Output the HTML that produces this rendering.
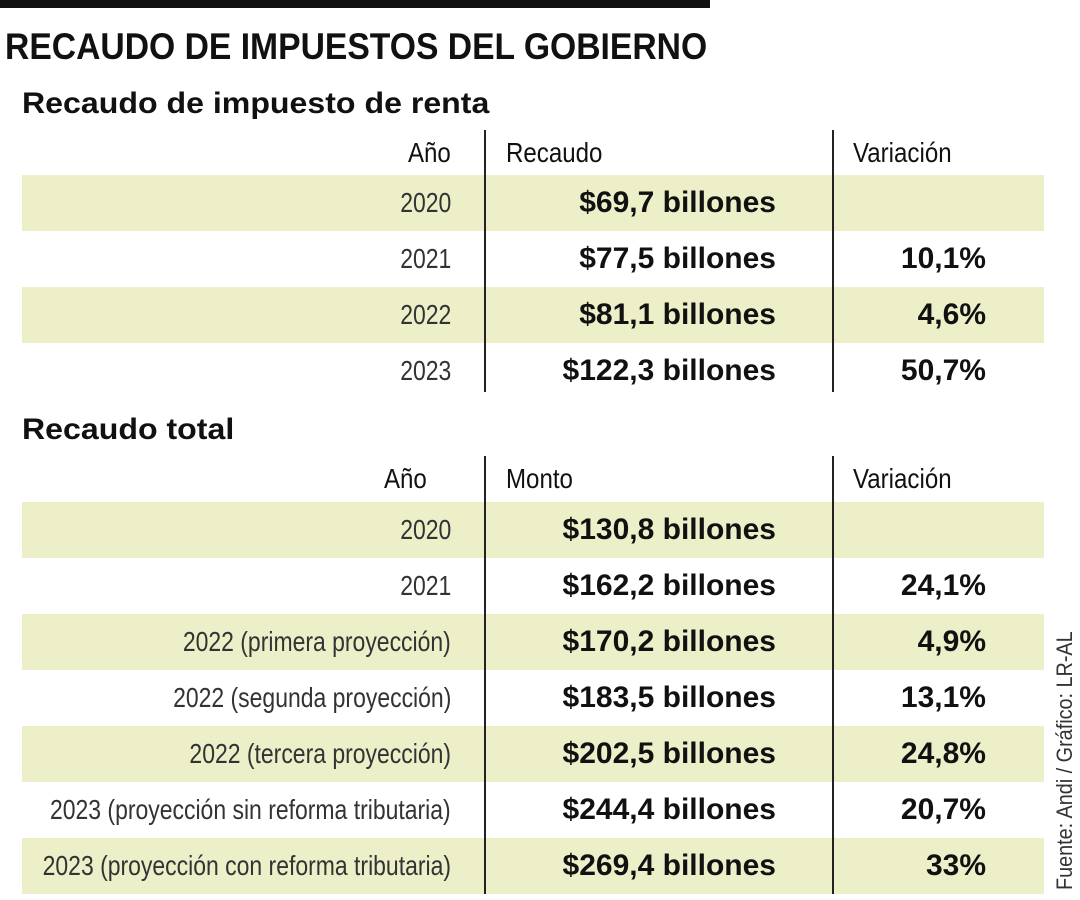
<!DOCTYPE html>
<html><head><meta charset="utf-8">
<style>
body{margin:0;width:1080px;height:900px;background:#fff;position:relative;overflow:hidden;font-family:"Liberation Sans",sans-serif;color:#111}
.a{position:absolute;white-space:nowrap}
.band{position:absolute;left:22px;width:1022px;height:56px;background:#ecefc8}
.vl{position:absolute;width:1.5px;background:#222}
.yr{position:absolute;right:629px;font-size:28px;transform:scaleX(.82);transform-origin:right center;color:#333;line-height:56px;white-space:nowrap}
.val{position:absolute;right:304px;font-size:30px;font-weight:bold;line-height:56px;white-space:nowrap}
.var{position:absolute;right:94px;font-size:30px;font-weight:bold;line-height:56px;white-space:nowrap}
.hd{position:absolute;font-size:28px;transform:scaleX(.86);white-space:nowrap;line-height:44px}
</style></head><body>
<div class="a" style="left:0;top:0;width:710px;height:8px;background:#111"></div>
<div class="a" style="left:5px;top:26px;font-size:37px;font-weight:bold;transform:scaleX(.91);transform-origin:left center;line-height:42px">RECAUDO DE IMPUESTOS DEL GOBIERNO</div>
<div class="a" style="left:22px;top:86px;font-size:30px;font-weight:bold;line-height:36px;transform:scaleX(1.07);transform-origin:left center">Recaudo de impuesto de renta</div>

<div class="band" style="top:175px"></div>
<div class="band" style="top:287px"></div>
<div class="vl" style="left:484px;top:130px;height:262px"></div>
<div class="vl" style="left:832px;top:130px;height:262px"></div>
<div class="hd" style="right:629px;top:131px;transform-origin:right center">Año</div>
<div class="hd" style="left:506px;top:131px;transform-origin:left center">Recaudo</div>
<div class="hd" style="left:853px;top:131px;transform-origin:left center">Variación</div>

<div>
<div class="yr" style="top:175px">2020</div><div class="val" style="top:175px">$69,7 billones</div>
<div class="yr" style="top:231px">2021</div><div class="val" style="top:231px">$77,5 billones</div><div class="var" style="top:231px">10,1%</div>
<div class="yr" style="top:287px">2022</div><div class="val" style="top:287px">$81,1 billones</div><div class="var" style="top:287px">4,6%</div>
<div class="yr" style="top:343px">2023</div><div class="val" style="top:343px">$122,3 billones</div><div class="var" style="top:343px">50,7%</div>
</div>

<div class="a" style="left:22px;top:412px;font-size:30px;font-weight:bold;line-height:36px;transform:scaleX(1.07);transform-origin:left center">Recaudo total</div>
<div class="band" style="top:502px"></div>
<div class="band" style="top:614px"></div>
<div class="band" style="top:726px"></div>
<div class="band" style="top:838px"></div>
<div class="vl" style="left:484px;top:456px;height:438px"></div>
<div class="vl" style="left:832px;top:456px;height:438px"></div>
<div class="hd" style="right:653px;top:457px;transform-origin:right center">Año</div>
<div class="hd" style="left:506px;top:457px;transform-origin:left center">Monto</div>
<div class="hd" style="left:853px;top:457px;transform-origin:left center">Variación</div>

<div>
<div class="yr" style="top:502px">2020</div><div class="val" style="top:502px">$130,8 billones</div>
<div class="yr" style="top:558px">2021</div><div class="val" style="top:558px">$162,2 billones</div><div class="var" style="top:558px">24,1%</div>
<div class="yr" style="top:614px">2022 (primera proyección)</div><div class="val" style="top:614px">$170,2 billones</div><div class="var" style="top:614px">4,9%</div>
<div class="yr" style="top:670px">2022 (segunda proyección)</div><div class="val" style="top:670px">$183,5 billones</div><div class="var" style="top:670px">13,1%</div>
<div class="yr" style="top:726px">2022 (tercera proyección)</div><div class="val" style="top:726px">$202,5 billones</div><div class="var" style="top:726px">24,8%</div>
<div class="yr" style="top:782px">2023 (proyección sin reforma tributaria)</div><div class="val" style="top:782px">$244,4 billones</div><div class="var" style="top:782px">20,7%</div>
<div class="yr" style="top:838px">2023 (proyección con reforma tributaria)</div><div class="val" style="top:838px">$269,4 billones</div><div class="var" style="top:838px">33%</div>
</div>

<div class="a" style="left:1053px;top:890px;font-size:22px;color:#333;transform:rotate(-90deg) scaleX(.9);transform-origin:left top;line-height:24px">Fuente: Andi / Gráfico: LR-AL</div>
</body></html>
